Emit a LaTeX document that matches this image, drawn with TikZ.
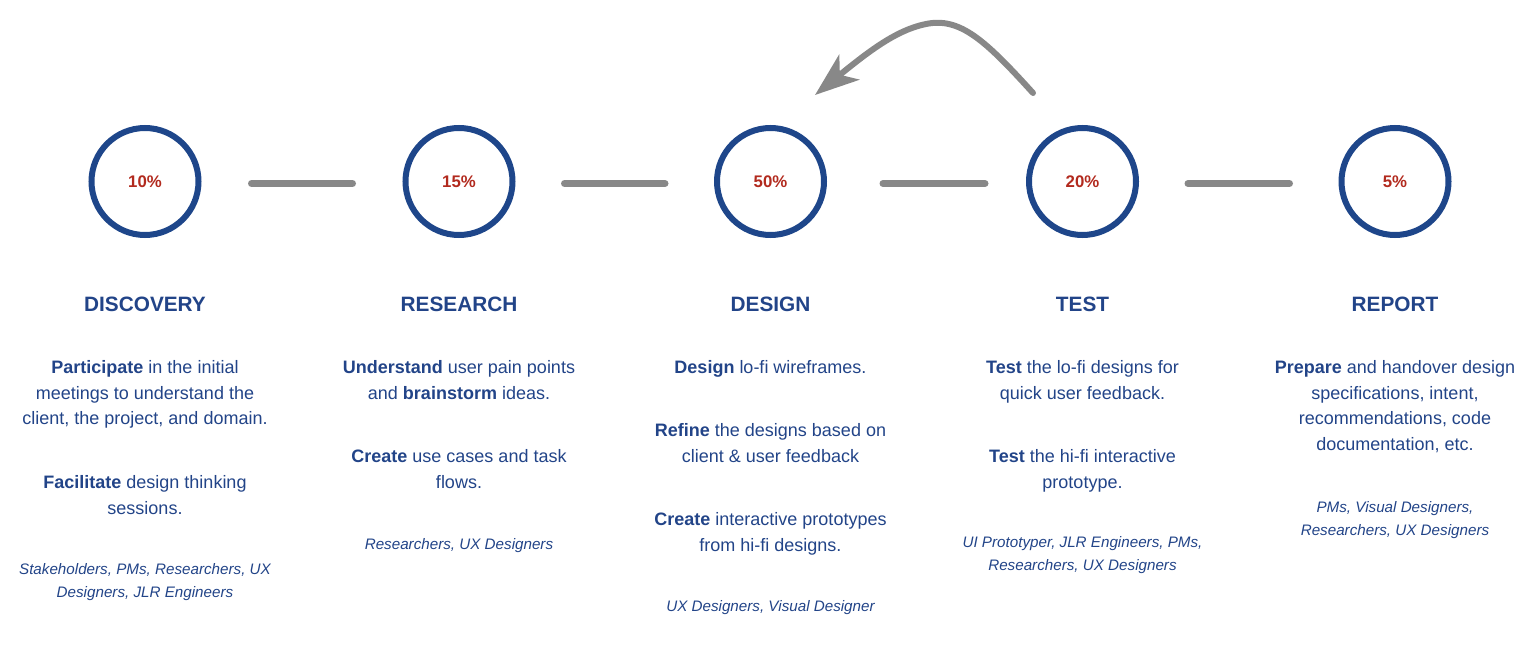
\documentclass[tikz,border=0pt]{standalone}
\usepackage{fontspec}
\setmainfont{Liberation Sans}
\usetikzlibrary{arrows.meta}
\definecolor{stageblue}{RGB}{30,70,138}
\definecolor{textblue}{RGB}{34,68,136}
\definecolor{pctred}{RGB}{178,42,30}
\definecolor{linkgray}{RGB}{136,136,136}
\begin{document}
\begin{tikzpicture}[x=0.5pt,y=-0.5pt,
  stage/.style={circle,draw=stageblue,line width=3pt,minimum size=53.5pt,inner sep=0pt,
    text=pctred,font=\bfseries\fontsize{8.4}{10}\selectfont},
  link/.style={draw=linkgray,line width=3.5pt,line cap=round},
  title/.style={anchor=base,text=textblue,inner sep=0pt,font=\bfseries\fontsize{10.4}{12}\selectfont},
  % multi-line text nodes are anchored at the baseline of their last line
  body/.style={anchor=base,align=center,text=textblue,inner sep=0pt,font=\fontsize{9}{12.85}\selectfont},
  who/.style={anchor=base,align=center,text=textblue,inner sep=0pt,font=\itshape\fontsize{7.6}{11.5}\selectfont}]
\useasboundingbox (0,0) rectangle (1533,653);

% stage circles with their share of effort
\node[stage] (s1) at (145,181.5) {10\%};
\node[stage] (s2) at (459,181.5) {15\%};
\node[stage] (s3) at (770.5,181.5) {50\%};
\node[stage] (s4) at (1082.5,181.5) {20\%};
\node[stage] (s5) at (1395,181.5) {5\%};

% connectors between the stages
\draw[link,shorten <=25pt,shorten >=25pt] ([yshift=-1pt]s1.east) -- ([yshift=-1pt]s2.west);
\draw[link,shorten <=24.5pt,shorten >=24.5pt] ([yshift=-1pt]s2.east) -- ([yshift=-1pt]s3.west);
\draw[link,shorten <=28pt,shorten >=20.5pt] ([yshift=-1pt]s3.east) -- ([yshift=-1pt]s4.west);
\draw[link,shorten <=24.5pt,shorten >=24.5pt] ([yshift=-1pt]s4.east) -- ([yshift=-1pt]s5.west);

% iteration loop from test back to design
\coordinate (loopstart) at (1033,93);
\coordinate (looptip) at (815,95);
\draw[draw=linkgray,line width=3pt,line cap=round,
  -{Stealth[length=22pt,width=16pt,inset=6pt]}]
  (loopstart) .. controls (985,40) and (960,17) .. (926,24)
  .. controls (896,30) and (868,52) .. (looptip);

% stage titles
\node[title] (t1) at (145,311.5) {DISCOVERY};
\node[title] (t2) at (459,311.5) {RESEARCH};
\node[title] (t3) at (770.5,311.5) {DESIGN};
\node[title] (t4) at (1082.5,311.5) {TEST};
\node[title] (t5) at (1395,311.5) {REPORT};

% discovery
\node[body] (d1) at (145,424.9) {\textbf{Participate} in the initial\\meetings to understand the\\client, the project, and domain.};
\node[body] (d2) at (145,514.2) {\textbf{Facilitate} design thinking\\sessions.};
\node[who] (d3) at (145,597.5) {Stakeholders, PMs, Researchers, UX\\Designers, JLR Engineers};

% research
\node[body] (r1) at (459,399.2) {\textbf{Understand} user pain points\\and \textbf{brainstorm} ideas.};
\node[body] (r2) at (459,488.2) {\textbf{Create} use cases and task\\flows.};
\node[who] (r3) at (459,549.5) {Researchers, UX Designers};

% design
\node[body] (g1) at (770.5,373.5) {\textbf{Design} lo-fi wireframes.};
\node[body] (g2) at (770.5,462.2) {\textbf{Refine} the designs based on\\client \& user feedback};
\node[body] (g3) at (770.5,551.2) {\textbf{Create} interactive prototypes\\from hi-fi designs.};
\node[who] (g4) at (770.5,611.5) {UX Designers, Visual Designer};

% test
\node[body] (e1) at (1082.5,399.2) {\textbf{Test} the lo-fi designs for\\quick user feedback.};
\node[body] (e2) at (1082.5,488.2) {\textbf{Test} the hi-fi interactive\\prototype.};
\node[who] (e3) at (1082.5,570.5) {UI Prototyper, JLR Engineers, PMs,\\Researchers, UX Designers};

% report
\node[body] (p1) at (1395,450.6) {\textbf{Prepare} and handover design\\specifications, intent,\\recommendations, code\\documentation, etc.};
\node[who] (p2) at (1395,535.5) {PMs, Visual Designers,\\Researchers, UX Designers};
\end{tikzpicture}
\end{document}
